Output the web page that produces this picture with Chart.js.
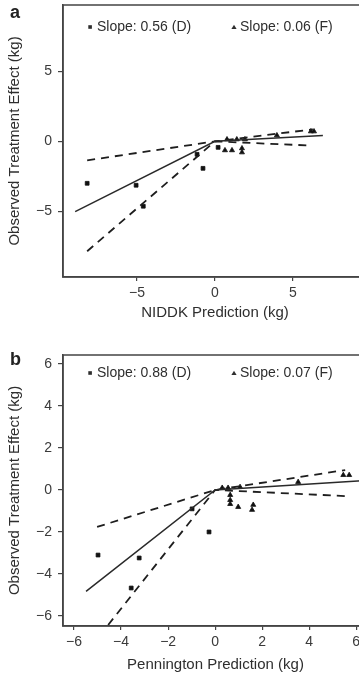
<!DOCTYPE html>
<html>
<head>
<meta charset="utf-8">
<script src="https://cdn.jsdelivr.net/npm/chart.js@4.4.1/dist/chart.umd.min.js"></script>
<style>
  html, body { margin: 0; padding: 0; background: #fff; overflow: hidden; width: 359px; height: 677px; }
  .panel { position: absolute; left: 0; }
  #wrapA { top: 0; }
  #wrapB { top: 340px; }
  canvas { display: block; filter: blur(0.45px); }
</style>
</head>
<body>
<div id="wrapA" class="panel"><canvas id="chartA" width="380" height="340"></canvas></div>
<div id="wrapB" class="panel"><canvas id="chartB" width="380" height="337"></canvas></div>
<script>
// ---- Panel a: NIDDK model predictions ----
const niddkDX = [-8.2, -5.06, -4.6, -1.15, -0.77, 0.2];
const niddkDY = [-3.0, -3.14, -4.64, -0.93, -1.93, -0.43];
const niddkFX = [0.64, 1.09, 1.73, 1.73, 0.77, 1.4, 1.92, 3.97, 6.15, 6.35];
const niddkFY = [-0.64, -0.64, -0.5, -0.79, 0.14, 0.14, 0.14, 0.43, 0.71, 0.71];
// fitted piecewise line (kink at 0) and its confidence limits
const niddkFitX = [-8.97, 0, 6.92];
const niddkFitY = [-5.02, 0, 0.42];
const niddkUpperX = [-8.2, 0, 6.28];
const niddkUpperY = [-1.36, 0, 0.86];
const niddkLowerX = [-8.2, 0, 5.9];
const niddkLowerY = [-7.86, 0, -0.29];
const niddkTicksX = [-5, 0, 5];
const niddkTicksY = [-5, 0, 5];
const niddkSlopes = ['Slope: 0.56 (D)', 'Slope: 0.06 (F)'];

// ---- Panel b: Pennington model predictions ----
const penDX = [-4.98, -3.23, -3.57, -0.98, -0.26];
const penDY = [-3.1, -3.24, -4.67, -0.9, -2.0];
const penFX = [0.64, 0.64, 0.64, 0.98, 1.62, 1.57, 0.3, 0.55, 1.06, 3.53, 5.45, 5.7];
const penFY = [-0.24, -0.48, -0.67, -0.81, -0.71, -0.95, 0.1, 0.1, 0.14, 0.38, 0.71, 0.71];
const penFitX = [-5.49, 0, 6.4];
const penFitY = [-4.83, 0, 0.45];
const penUpperX = [-5.02, 0, 5.53];
const penUpperY = [-1.76, 0, 0.95];
const penLowerX = [-4.55, 0, 5.53];
const penLowerY = [-6.43, 0, -0.29];
const penTicksX = [-6, -4, -2, 0, 2, 4, 6];
const penTicksY = [-6, -4, -2, 0, 2, 4, 6];
const penSlopes = ['Slope: 0.88 (D)', 'Slope: 0.07 (F)'];

const FONT = '"Liberation Sans", Arial, Helvetica, sans-serif';
const INK = '#2e2e2e';
const AXIS = '#444';

const pts = (xs, ys) => xs.map((x, i) => ({ x, y: ys[i] }));
const minus = v => (v < 0 ? '\u2212' + Math.abs(v) : String(v));

function lineSet(xs, ys, dashed) {
  return {
    type: 'line',
    data: pts(xs, ys),
    showLine: true,
    borderColor: dashed ? '#1e1e1e' : '#2a2a2a',
    borderWidth: dashed ? 1.8 : 1.5,
    borderDash: dashed ? [8, 6] : [],
    pointRadius: 0,
    fill: false,
    tension: 0
  };
}

function pointSet(xs, ys, style) {
  return {
    type: 'scatter',
    data: pts(xs, ys),
    pointStyle: style,
    pointRadius: style === 'triangle' ? 2.9 : 2.7,
    backgroundColor: '#111',
    borderColor: '#111',
    borderWidth: 0.8,
    showLine: false
  };
}

// frame, panel letter and slope legend drawn over the plot
const panelDecor = {
  id: 'panelDecor',
  afterDraw(chart, args, o) {
    const { ctx, chartArea: a } = chart;
    ctx.save();
    ctx.strokeStyle = AXIS;
    ctx.lineWidth = 1.5;
    ctx.strokeRect(a.left, a.top, a.right - a.left, a.bottom - a.top);

    ctx.fillStyle = '#222';
    ctx.font = 'bold 18px ' + FONT;
    ctx.textBaseline = 'alphabetic';
    ctx.textAlign = 'left';
    ctx.fillText(o.letter, 10, o.letterY);

    ctx.font = '14px ' + FONT;
    ctx.textBaseline = 'middle';
    ctx.fillStyle = INK;
    const y = a.top + o.legendDy;
    // square marker (D)
    ctx.fillRect(88.3, y - 1.8, 3.6, 3.6);
    ctx.fillText(o.labels[0], 97, y);
    // triangle marker (F)
    ctx.beginPath();
    ctx.moveTo(234, y - 2.3);
    ctx.lineTo(236.6, y + 1.9);
    ctx.lineTo(231.4, y + 1.9);
    ctx.closePath();
    ctx.fill();
    ctx.fillText(o.labels[1], 240, y);
    ctx.restore();
  }
};

function axis(opts) {
  const horizontal = opts.horizontal;
  return {
    type: 'linear',
    min: opts.min,
    max: opts.max,
    afterBuildTicks: s => { s.ticks = opts.ticks.map(v => ({ value: v })); },
    afterFit: s => {
      if (horizontal) { s.height = opts.size; s.paddingLeft = 0; s.paddingRight = 0; }
      else { s.width = opts.size; s.paddingTop = 0; s.paddingBottom = 0; }
    },
    ticks: {
      font: { family: FONT, size: 14 },
      color: '#3a3a3a',
      padding: horizontal ? 4 : 6,
      autoSkip: false,
      maxRotation: 0,
      callback: v => minus(v)
    },
    grid: { display: true, drawOnChartArea: false, drawTicks: true, tickLength: horizontal ? 4 : 5, color: AXIS, lineWidth: 1.2 },
    border: { display: true, color: AXIS, width: 1.5 },
    title: {
      display: true,
      text: opts.title,
      font: { family: FONT, size: 15 },
      color: INK,
      padding: opts.titlePad
    }
  };
}

function makePanel(id, cfg) {
  return new Chart(document.getElementById(id), {
    type: 'scatter',
    data: {
      datasets: [
        lineSet(cfg.fitX, cfg.fitY, false),
        lineSet(cfg.upX, cfg.upY, true),
        lineSet(cfg.loX, cfg.loY, true),
        pointSet(cfg.dX, cfg.dY, 'rect'),
        pointSet(cfg.fX, cfg.fY, 'triangle')
      ]
    },
    options: {
      responsive: false,
      devicePixelRatio: 1,
      animation: false,
      layout: { padding: cfg.pad },
      plugins: {
        legend: { display: false },
        tooltip: { enabled: false },
        panelDecor: cfg.decor
      },
      scales: {
        x: axis({ horizontal: true, min: cfg.xMin, max: cfg.xMax, ticks: cfg.ticksX, size: cfg.xSize,
                  title: cfg.xTitle, titlePad: { top: 0, bottom: cfg.xTitlePad } }),
        y: axis({ horizontal: false, min: cfg.yMin, max: cfg.yMax, ticks: cfg.ticksY, size: 63,
                  title: 'Observed Treatment Effect (kg)', titlePad: { top: 6, bottom: 0 } })
      }
    },
    plugins: [panelDecor]
  });
}

makePanel('chartA', {
  dX: niddkDX, dY: niddkDY, fX: niddkFX, fY: niddkFY,
  fitX: niddkFitX, fitY: niddkFitY, upX: niddkUpperX, upY: niddkUpperY, loX: niddkLowerX, loY: niddkLowerY,
  ticksX: niddkTicksX, ticksY: niddkTicksY,
  xMin: -9.75, xMax: 9.75, yMin: -9.7, yMax: 9.75,
  xSize: 63, xTitle: 'NIDDK Prediction (kg)', xTitlePad: 18,
  pad: { left: 0, top: 5, right: 13, bottom: 0 },
  decor: { letter: 'a', letterY: 18, legendDy: 22, labels: niddkSlopes }
});

makePanel('chartB', {
  dX: penDX, dY: penDY, fX: penFX, fY: penFY,
  fitX: penFitX, fitY: penFitY, upX: penUpperX, upY: penUpperY, loX: penLowerX, loY: penLowerY,
  ticksX: penTicksX, ticksY: penTicksY,
  xMin: -6.47, xMax: 6.5, yMin: -6.48, yMax: 6.43,
  xSize: 51, xTitle: 'Pennington Prediction (kg)', xTitlePad: 3,
  pad: { left: 0, top: 15, right: 12, bottom: 0 },
  decor: { letter: 'b', letterY: 25, legendDy: 18, labels: penSlopes }
});
</script>
</body>
</html>
